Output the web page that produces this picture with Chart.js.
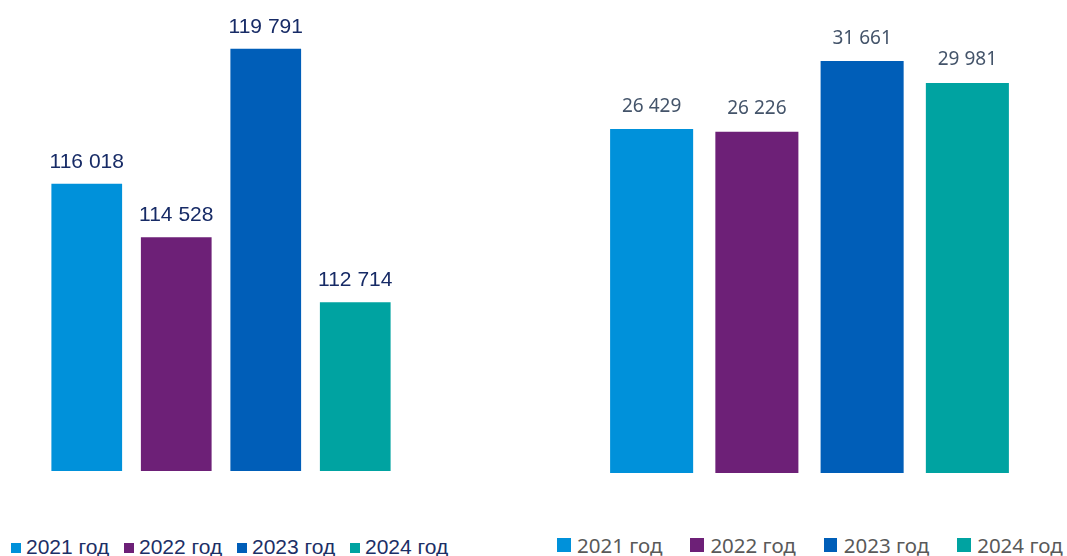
<!DOCTYPE html>
<html>
<head>
<meta charset="utf-8">
<script src="https://cdn.jsdelivr.net/npm/chart.js@4/dist/chart.umd.min.js"></script>
<style>
  html, body { margin: 0; padding: 0; background: #fff; }
  #wrap { position: relative; width: 1067px; height: 556px; overflow: hidden; }
  canvas { position: absolute; }
  .legend { position: absolute; display: flex; white-space: nowrap; }
  .legend .item { position: relative; }
  .legend .sw { position: absolute; left: 0; display: block; }
  #legLeft { left: 11px; top: 536.2px; font: 21px "Liberation Sans", Arial, sans-serif; line-height: 21px; color: #1C2F66; }
  #legLeft .item { width: 113px; padding-left: 15px; box-sizing: border-box; }
  #legLeft .sw { top: 6.5px; width: 10px; height: 10px; }
  #legRight { left: 557px; top: 534.5px; font: 20.5px "Noto Sans", "Open Sans", sans-serif; line-height: 20.5px; color: #595959; }
  #legRight .item { width: 133.4px; padding-left: 20px; box-sizing: border-box; }
  #legRight .sw { top: 3.8px; width: 13.5px; height: 13.5px; }
</style>
</head>
<body>
<div id="wrap">
  <canvas id="left" width="358" height="471" style="left:42px; top:0px;"></canvas>
  <canvas id="right" width="421" height="473" style="left:599px; top:0px;"></canvas>
  <div id="legLeft" class="legend"></div>
  <div id="legRight" class="legend"></div>
</div>
<script>
// Years shown in both panels
const years = ['2021 год', '2022 год', '2023 год', '2024 год'];
// Left panel values
const leftValues = [116018, 114528, 119791, 112714];
// Right panel values
const rightValues = [26429, 26226, 31661, 29981];
// One colour per year
const yearColors = ['#0091DA', '#6D2077', '#005EB8', '#00A3A1'];

// "116018" -> "116 018"
function fmt(v) {
  return String(v).replace(/\B(?=(\d{3})+(?!\d))/g, ' ');
}

// Writes each bar's value above it
function valueLabels(font, color, gap) {
  return {
    id: 'valueLabels',
    afterDatasetsDraw(chart) {
      const ctx = chart.ctx;
      ctx.save();
      ctx.font = font;
      ctx.fillStyle = color;
      ctx.textAlign = 'center';
      ctx.textBaseline = 'alphabetic';
      const meta = chart.getDatasetMeta(0);
      meta.data.forEach((bar, i) => {
        ctx.fillText(fmt(chart.data.datasets[0].data[i]), bar.x, bar.y - gap);
      });
      ctx.restore();
    }
  };
}

function makeChart(id, values, yMin, yMax, barPct, labelPlugin) {
  return new Chart(document.getElementById(id), {
    type: 'bar',
    data: {
      labels: years,
      datasets: [{
        data: values,
        backgroundColor: yearColors,
        borderWidth: 0,
        categoryPercentage: 1.0,
        barPercentage: barPct
      }]
    },
    options: {
      responsive: false,
      maintainAspectRatio: false,
      devicePixelRatio: 1,
      animation: false,
      layout: { padding: 0 },
      plugins: { legend: { display: false }, tooltip: { enabled: false } },
      scales: {
        x: { display: false, offset: true },
        y: { display: false, min: yMin, max: yMax }
      },
      clip: false
    },
    plugins: [labelPlugin]
  });
}

makeChart('left', leftValues, 108000, 121150, 0.79,
  valueLabels('21px "Liberation Sans", Arial, sans-serif', '#172B66', 15.7));
makeChart('right', rightValues, 0, 36350, 0.789,
  valueLabels('19px "Noto Sans", "Open Sans", sans-serif', '#44546A', 17.5));

// Legends under each panel
function buildLegend(elId) {
  const el = document.getElementById(elId);
  years.forEach((y, i) => {
    const item = document.createElement('span');
    item.className = 'item';
    const sw = document.createElement('span');
    sw.className = 'sw';
    sw.style.background = yearColors[i];
    item.appendChild(sw);
    item.appendChild(document.createTextNode(y));
    el.appendChild(item);
  });
}
buildLegend('legLeft');
buildLegend('legRight');
</script>
</body>
</html>
